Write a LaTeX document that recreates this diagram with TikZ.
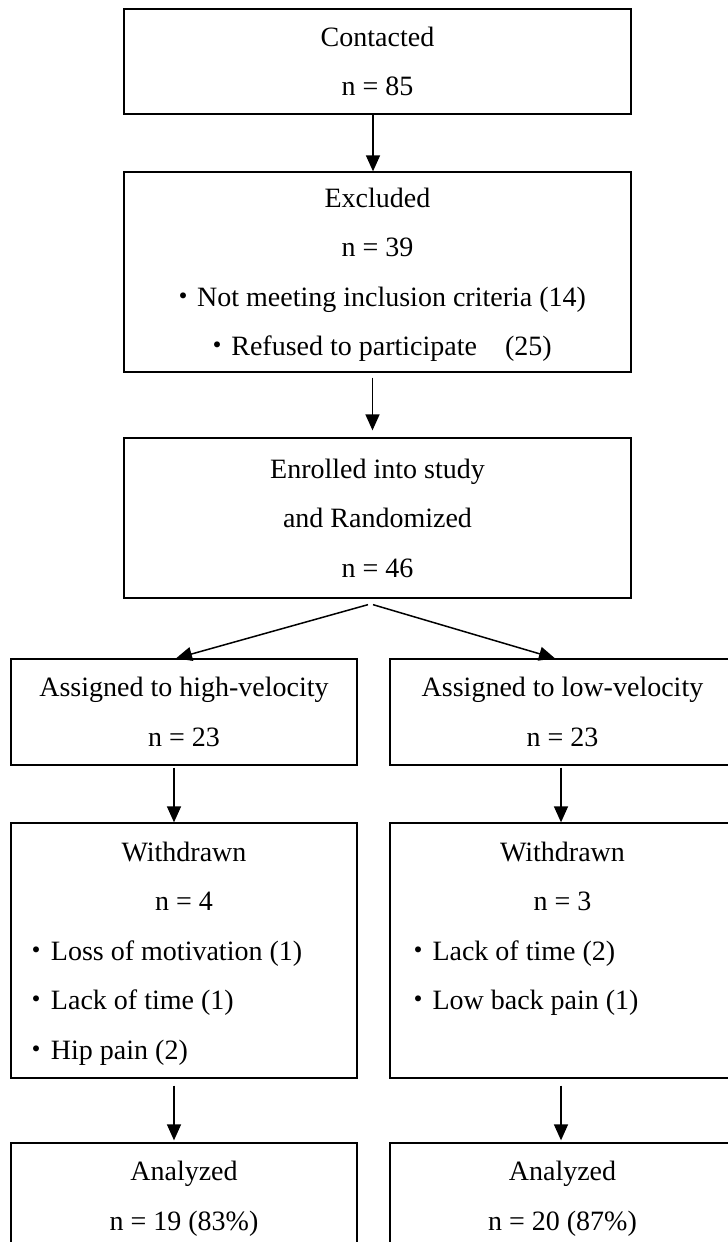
\documentclass[tikz,border=0pt]{standalone}
\usepackage{fontspec}
\setmainfont{Liberation Serif}
\newfontfamily\cjkfont{Noto Sans CJK JP}
\usetikzlibrary{arrows.meta,calc}
\newcommand\bdot{{\cjkfont ・}}
\newcommand\zd[1]{\raisebox{0pt}[\height][0pt]{#1}}
\tikzset{
  box/.style={draw, line width=1.3pt, inner sep=0pt, align=center,
    font=\fontsize{28pt}{49.5pt}\selectfont},
  widebox/.style={box, minimum width=507pt},
  leftbox/.style={box, minimum width=346pt},
  rightbox/.style={box, minimum width=345pt},
  arr/.style={line width=1.5pt, -{Triangle[length=16pt,width=14pt]}}
}
\begin{document}
\begin{tikzpicture}[x=1pt,y=-1pt]
\useasboundingbox (0,0) rectangle (728,1242);
\clip (0,0) rectangle (728,1242);
\node[widebox, minimum height=105pt] (A) at (377.5,61.5) {Contacted\\n = 85};
\node[widebox, minimum height=200pt] (B) at (377.5,272) {Excluded\\n = 39\\\bdot Not meeting inclusion criteria (14)\\\zd{\bdot Refused to participate\hspace{1em}(25)}};
\node[widebox, minimum height=160pt] (C) at (377.5,518) {Enrolled into study\\and Randomized\\n = 46};
\node[leftbox, minimum height=106pt] (D1) at (184,712) {Assigned to high-velocity\\n = 23};
\node[rightbox, minimum height=106pt] (D2) at (562.5,712) {Assigned to low-velocity\\n = 23};
\node[leftbox, minimum height=255pt] (E1) at (184,950.5) {Withdrawn\\n = 4\\\makebox[322pt][l]{\bdot Loss of motivation (1)}\\\makebox[322pt][l]{\bdot Lack of time (1)}\\\zd{\makebox[322pt][l]{\bdot Hip pain (2)}}};
\node[rightbox, minimum height=255pt] (E2) at (562.5,950.5) {Withdrawn\\n = 3\\\makebox[316pt][l]{\bdot Lack of time (2)}\\\makebox[316pt][l]{\bdot Low back pain (1)}\\\mbox{}};
\node[leftbox, minimum height=106pt] (F1) at (184,1196) {Analyzed\\\zd{n = 19 (83\%)}};
\node[rightbox, minimum height=106pt] (F2) at (562.5,1196) {Analyzed\\\zd{n = 20 (87\%)}};
\draw[arr] ([xshift=-4.5pt]A.south) -- ([xshift=-4.5pt]B.north);
\draw[arr] ([xshift=-5pt,yshift=-5pt]B.south) -- ([xshift=-5pt,yshift=7pt]C.north);
\draw[arr] ([xshift=-9.5pt,yshift=-6pt]C.south) -- ([xshift=-8pt]D1.north);
\draw[arr] ([xshift=-4.5pt,yshift=-6pt]C.south) -- ([xshift=-7.5pt]D2.north);
\draw[arr] ([xshift=-10pt,yshift=-2pt]D1.south) -- ([xshift=-10pt]E1.north);
\draw[arr] ([xshift=-1.5pt,yshift=-2pt]D2.south) -- ([xshift=-1.5pt]E2.north);
\draw[arr] ([xshift=-10pt,yshift=-7pt]E1.south) -- ([xshift=-10pt,yshift=2pt]F1.north);
\draw[arr] ([xshift=-1.5pt,yshift=-7pt]E2.south) -- ([xshift=-1.5pt,yshift=2pt]F2.north);
\end{tikzpicture}
\end{document}
